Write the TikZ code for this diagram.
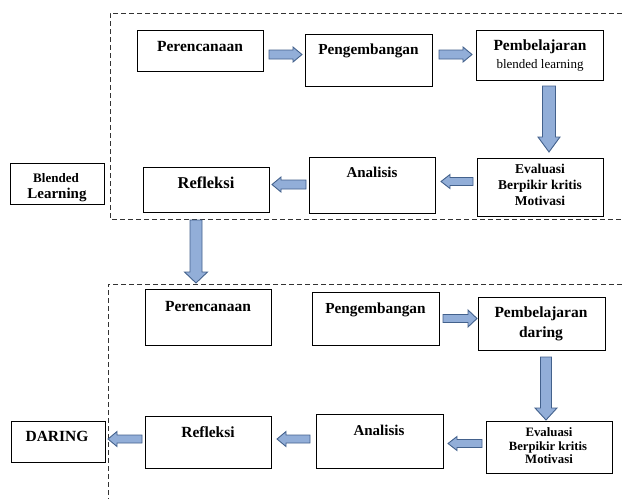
\documentclass[tikz,border=0pt]{standalone}
\usepackage{fontspec}
\setmainfont{Liberation Serif}
\usetikzlibrary{calc}
\definecolor{arrfill}{HTML}{92AED8}
\definecolor{arrline}{HTML}{43618C}
\definecolor{shadowgray}{HTML}{A0A0A0}
\tikzset{
  boxst/.style={draw=black, line width=0.9pt, fill=white, inner sep=0pt, outer sep=0pt, rectangle},
  shbox/.style={fill=shadowgray, draw=none, inner sep=0pt, outer sep=0pt, rectangle},
  blkst/.style={fill=arrfill, draw=arrline, line width=0.9pt, line join=miter},
  dashst/.style={draw=black!80, line width=0.9pt, dash pattern=on 5pt off 3pt},
  tb/.style={inner sep=0pt, anchor=base, font=\bfseries},
}
\newcommand\bx[5]{%
  \node[shbox, minimum width={#4-#2}, minimum height={#5-#3}] (#1s) at ({(#2+#4)/2+1.3},{(#3+#5)/2+1.3}) {};
  \node[boxst, minimum width={#4-#2}, minimum height={#5-#3}] (#1) at ({(#2+#4)/2},{(#3+#5)/2}) {};}
\newcommand\blk[5]{%
  \coordinate (hb) at ($(#2)!#5pt!(#1)$);
  \draw[blkst] ($(#1)!#3pt!90:(#2)$) -- ($(hb)!#3pt!90:(#2)$) -- ($(hb)!#4pt!90:(#2)$) -- (#2)
     -- ($(hb)!#4pt!-90:(#2)$) -- ($(hb)!#3pt!-90:(#2)$) -- ($(#1)!#3pt!-90:(#2)$) -- cycle;}
\newcommand\fs[1]{\fontsize{#1}{#1}\selectfont}
\begin{document}
\begin{tikzpicture}[x=1pt,y=-1pt]
\useasboundingbox (0,0) rectangle (622,499);
% dashed frames
\coordinate (d1a) at (622,13); \coordinate (d1b) at (110,13);
\coordinate (d1c) at (110,219); \coordinate (d1d) at (622,219);
\draw[dashst] (d1a) -- (d1b) -- (d1c) -- (d1d);
\coordinate (d2a) at (622,284); \coordinate (d2b) at (108,284);
\coordinate (d2c) at (108,499);
\draw[dashst] (d2a) -- (d2b) -- (d2c);

% ---- top section boxes
\bx{per1}{137}{30}{263}{71}
\bx{peng1}{305}{34}{432}{86}
\bx{pemb1}{476}{30}{603}{80}
\bx{eval1}{477}{158}{603}{216}
\bx{anal1}{309}{157}{435}{213}
\bx{ref1}{143}{167}{269}{212}
\bx{bl}{10}{163}{104}{204}

\node[tb, font=\bfseries\fs{15.5}] (per1t) at (200,51) {Perencanaan};
\node[tb, font=\bfseries\fs{15.3}] (peng1t) at (368.5,54) {Pengembangan};
\node[tb, font=\bfseries\fs{15.5}] (pemb1t) at (540,50) {Pembelajaran};
\node[tb, font=\fs{13}] (pemb1u) at (540,68) {blended learning};
\node[tb, font=\bfseries\fs{13.5}] (eval1a) at (540,173) {Evaluasi};
\node[tb, font=\bfseries\fs{13.5}] (eval1b) at (540,189) {Berpikir kritis};
\node[tb, font=\bfseries\fs{13.5}] (eval1c) at (540,205) {Motivasi};
\node[tb, font=\bfseries\fs{15}] (anal1t) at (372,177) {Analisis};
\node[tb, font=\bfseries\fs{16.5}] (ref1t) at (206,188) {Refleksi};
\node[tb, font=\bfseries\fs{13}] (bl1) at (56,182) {Blended};
\node[tb, font=\bfseries\fs{15}] (bl2) at (57,198) {Learning};

% ---- bottom section boxes
\bx{per2}{145}{289}{271}{345}
\bx{peng2}{312}{292}{439}{345}
\bx{pemb2}{478}{297}{605}{350}
\bx{eval2}{486}{421}{612}{473}
\bx{anal2}{316}{414}{443}{468}
\bx{ref2}{145}{416}{271}{468}
\bx{dar}{11}{421}{105}{462}

\node[tb, font=\bfseries\fs{15.5}] (per2t) at (208,311) {Perencanaan};
\node[tb, font=\bfseries\fs{15.3}] (peng2t) at (375.5,313) {Pengembangan};
\node[tb, font=\bfseries\fs{15.5}] (pemb2t) at (541,317) {Pembelajaran};
\node[tb, font=\bfseries\fs{15.5}] (pemb2u) at (541,337) {daring};
\node[tb, font=\bfseries\fs{12.8}] (eval2a) at (549,436) {Evaluasi};
\node[tb, font=\bfseries\fs{12.6}] (eval2b) at (548,450) {Berpikir kritis};
\node[tb, font=\bfseries\fs{12.8}] (eval2c) at (549,463) {Motivasi};
\node[tb, font=\bfseries\fs{15}] (anal2t) at (379,435) {Analisis};
\node[tb, font=\bfseries\fs{15.5}] (ref2t) at (208,437) {Refleksi};
\node[tb, font=\bfseries\fs{15.5}] (dart) at (57,441) {DARING};

% ---- block arrows
\coordinate (a1s) at (269,54.5);  \coordinate (a1e) at (302,54.5);
\coordinate (a2s) at (439,54.5);  \coordinate (a2e) at (472,54.5);
\coordinate (a3s) at (549,86);    \coordinate (a3e) at (549,152);
\coordinate (a4s) at (473,181.5); \coordinate (a4e) at (441,181.5);
\coordinate (a5s) at (306,184.5); \coordinate (a5e) at (272,184.5);
\coordinate (a6s) at (196,220);   \coordinate (a6e) at (196,283);
\coordinate (a7s) at (443,318.5); \coordinate (a7e) at (477,318.5);
\coordinate (a8s) at (546,357);   \coordinate (a8e) at (546,420);
\coordinate (a9s) at (482,443.5); \coordinate (a9e) at (448,443.5);
\coordinate (a10s) at (310,439);  \coordinate (a10e) at (277,439);
\coordinate (a11s) at (142,439);  \coordinate (a11e) at (108,439);
\blk{a1s}{a1e}{4.5}{7.5}{9}
\blk{a2s}{a2e}{4.5}{7.5}{9}
\blk{a3s}{a3e}{6.5}{11}{15}
\blk{a4s}{a4e}{4}{7}{9}
\blk{a5s}{a5e}{4.5}{7.5}{9}
\blk{a6s}{a6e}{6}{11.5}{11}
\blk{a7s}{a7e}{4}{8.5}{9}
\blk{a8s}{a8e}{5.5}{11}{12}
\blk{a9s}{a9e}{4}{7}{9}
\blk{a10s}{a10e}{4}{7.5}{9}
\blk{a11s}{a11e}{4}{7.5}{9}
\end{tikzpicture}
\end{document}
